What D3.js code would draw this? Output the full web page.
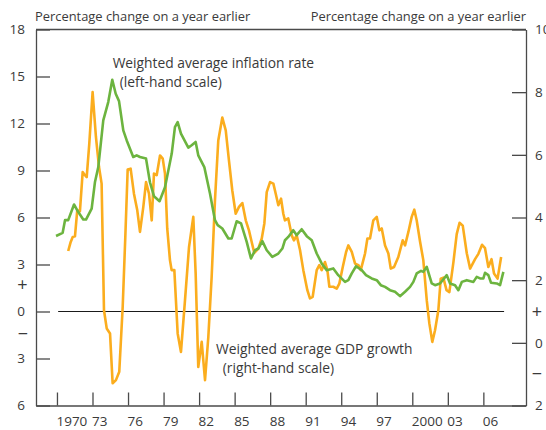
<!DOCTYPE html>
<html>
<head>
<meta charset="utf-8">
<script src="https://cdn.jsdelivr.net/npm/d3@7"></script>
<style>
  body { margin: 0; background: #fff; }
  svg { display: block; font-family: 'Open Sans', sans-serif; }
  .axis path, .axis line { stroke: #4a4a4a; stroke-width: 1.3; }
  .axis text { fill: #3a3a3a; font-size: 13.5px; font-family: 'Open Sans', sans-serif; }
</style>
</head>
<body>
<svg id="chart" width="546" height="430"></svg>
<script>
// inflation (left-hand scale), [year, % change]
const inflation = [
  [1969.92, 4.82], [1970.48, 5.02], [1970.68, 5.83], [1970.95, 5.83], [1971.44, 6.83],
  [1971.80, 6.35], [1972.22, 5.87], [1972.45, 5.87], [1972.93, 6.57], [1973.21, 8.27],
  [1973.49, 9.22], [1973.91, 12.2], [1974.33, 13.37], [1974.67, 14.79], [1974.96, 13.9],
  [1975.24, 13.43], [1975.60, 11.56], [1975.89, 10.92], [1976.44, 9.86], [1976.73, 9.97],
  [1977.01, 9.86], [1977.52, 9.76], [1977.85, 8.25], [1978.19, 7.36], [1978.66, 7.04],
  [1979.12, 7.93], [1979.69, 10.08], [1979.96, 11.77], [1980.19, 12.09], [1980.47, 11.35],
  [1981.09, 10.46], [1981.37, 10.61], [1981.71, 10.82], [1981.93, 9.97], [1982.44, 9.22],
  [1982.92, 7.53], [1983.34, 5.83], [1983.57, 5.51], [1983.96, 5.3], [1984.47, 4.66],
  [1984.75, 4.66], [1985.17, 5.76], [1985.54, 5.62], [1986.02, 4.44], [1986.38, 3.38],
  [1986.72, 3.91], [1987.00, 4.02], [1987.34, 4.49], [1987.71, 3.91], [1988.18, 3.49],
  [1988.69, 3.7], [1989.03, 4.02], [1989.25, 4.55], [1989.53, 4.76], [1989.95, 5.19],
  [1990.24, 4.87], [1990.66, 5.25], [1991.09, 4.81], [1991.51, 4.55], [1991.93, 3.7],
  [1992.35, 3.07], [1992.77, 2.64], [1993.33, 2.75], [1993.75, 2.32], [1994.32, 1.89],
  [1994.60, 2.0], [1994.89, 2.43], [1995.25, 2.89], [1995.73, 2.64], [1996.09, 2.32],
  [1996.57, 2.11], [1997.00, 2.0], [1997.34, 1.68], [1997.70, 1.57], [1998.12, 1.36],
  [1998.54, 1.26], [1998.96, 0.98], [1999.39, 1.26], [1999.81, 1.57], [2000.09, 1.89],
  [2000.37, 2.43], [2000.74, 2.59], [2000.93, 2.53], [2001.22, 2.85], [2001.64, 1.79],
  [2001.92, 1.68], [2002.34, 1.79], [2002.91, 2.32], [2003.19, 1.79], [2003.61, 1.68],
  [2003.89, 1.36], [2004.18, 1.89], [2004.60, 2.0], [2005.16, 1.89], [2005.44, 2.21],
  [2005.72, 2.11], [2006.00, 2.11], [2006.14, 2.47], [2006.42, 2.32], [2006.65, 1.83],
  [2007.13, 1.79], [2007.41, 1.68], [2007.69, 2.53]
];

// GDP growth (right-hand scale), [year, % change]
const gdp = [
  [1970.95, 2.93], [1971.16, 3.22], [1971.33, 3.38], [1971.52, 3.4], [1971.71, 4.22],
  [1971.94, 4.2], [1972.17, 5.45], [1972.36, 5.35], [1972.51, 5.29], [1972.73, 6.36],
  [1973.01, 8.0], [1973.29, 6.57], [1973.55, 5.61], [1973.77, 5.08], [1973.97, 1.04],
  [1974.20, 0.46], [1974.48, 0.3], [1974.70, -1.29], [1974.98, -1.19], [1975.26, -0.92],
  [1975.55, 1.15], [1975.77, 3.38], [1975.97, 5.53], [1976.22, 5.56], [1976.50, 4.76],
  [1976.78, 4.23], [1977.01, 3.54], [1977.29, 4.34], [1977.52, 5.13], [1977.77, 4.76],
  [1978.00, 3.91], [1978.19, 5.4], [1978.42, 5.35], [1978.70, 5.98], [1978.93, 5.88],
  [1979.12, 5.4], [1979.31, 3.65], [1979.54, 2.64], [1979.68, 2.32], [1979.91, 2.32],
  [1980.19, 0.3], [1980.47, -0.29], [1980.81, 1.36], [1981.15, 3.06], [1981.51, 4.02],
  [1981.71, 2.21], [1981.93, -0.77], [1982.22, 0.03], [1982.50, -1.19], [1982.78, 0.19],
  [1983.06, 2.1], [1983.34, 4.55], [1983.62, 6.46], [1983.96, 7.19], [1984.25, 6.78],
  [1984.52, 5.82], [1984.80, 4.87], [1985.09, 4.12], [1985.37, 4.34], [1985.65, 4.46],
  [1985.94, 3.91], [1986.21, 3.59], [1986.44, 3.22], [1986.66, 2.87], [1987.00, 3.01],
  [1987.29, 3.33], [1987.51, 3.81], [1987.71, 4.81], [1987.99, 5.13], [1988.27, 5.08],
  [1988.47, 4.76], [1988.69, 4.39], [1988.92, 4.6], [1989.11, 4.12], [1989.25, 3.91],
  [1989.53, 3.97], [1989.82, 3.43], [1990.01, 3.27], [1990.24, 3.43], [1990.52, 2.96],
  [1990.80, 2.32], [1991.14, 1.68], [1991.36, 1.42], [1991.59, 1.47], [1991.93, 2.32],
  [1992.15, 2.48], [1992.35, 2.32], [1992.63, 2.58], [1992.83, 2.32], [1993.00, 1.79],
  [1993.33, 1.79], [1993.62, 1.73], [1993.84, 1.89], [1994.13, 2.42], [1994.41, 2.9],
  [1994.60, 3.11], [1994.89, 2.9], [1995.17, 2.53], [1995.45, 2.48], [1995.65, 2.32],
  [1996.01, 2.85], [1996.21, 3.33], [1996.43, 3.33], [1996.71, 3.91], [1997.00, 4.02],
  [1997.22, 3.59], [1997.42, 3.65], [1997.70, 3.11], [1997.98, 2.85], [1998.18, 2.37],
  [1998.46, 2.42], [1998.82, 2.74], [1999.19, 3.27], [1999.39, 3.11], [1999.67, 3.54],
  [1999.95, 4.02], [2000.17, 4.25], [2000.37, 3.91], [2000.65, 3.24], [2000.93, 2.64],
  [2001.22, 1.36], [2001.44, 0.62], [2001.69, 0.03], [2001.92, 0.4], [2002.20, 1.04],
  [2002.40, 2.05], [2002.62, 2.08], [2002.89, 1.68], [2003.13, 1.62], [2003.47, 2.57],
  [2003.75, 3.47], [2003.99, 3.83], [2004.26, 3.74], [2004.60, 2.86], [2004.88, 2.37],
  [2005.30, 2.67], [2005.58, 2.84], [2005.89, 3.13], [2006.14, 3.02], [2006.42, 2.42],
  [2006.69, 2.67], [2006.90, 2.21], [2007.20, 2.05], [2007.50, 2.74]
];

const leftTicks = [18, 15, 12, 9, 6, 3, 0, -3, -6];
const rightTicks = [10, 8, 6, 4, 2, 0, -2];
const yearTicks = [1970, 1973, 1976, 1979, 1982, 1985, 1988, 1991, 1994, 1997, 2000, 2003, 2006];
const yearLabels = ['1970', '73', '76', '79', '82', '85', '88', '91', '94', '97', '2000', '03', '06'];

let svg = d3.select('#chart');
let margin = { top: 29.5, right: 20, bottom: 24.5, left: 36 };
let width = +svg.attr('width');
let height = +svg.attr('height');

let x = d3.scaleLinear()
  .domain([1968.23, 2009.6])
  .range([margin.left, width - margin.right]);

let yLeft = d3.scaleLinear()
  .domain([-6, 18])
  .range([height - margin.bottom, margin.top]);

let yRight = d3.scaleLinear()
  .domain([-2, 10])
  .range([height - margin.bottom, margin.top]);

// frame top
svg.append('line')
  .attr('x1', margin.left).attr('x2', width - margin.right)
  .attr('y1', margin.top).attr('y2', margin.top)
  .attr('stroke', '#4a4a4a').attr('stroke-width', 1.3);

// zero line
svg.append('line')
  .attr('x1', x(1970.1)).attr('x2', x(2007.75))
  .attr('y1', yLeft(0)).attr('y2', yLeft(0))
  .attr('stroke', '#1a1a1a').attr('stroke-width', 1.1);

// Axes
svg.append('g')
  .attr('class', 'axis')
  .attr('transform', 'translate(' + margin.left + ',0)')
  .call(d3.axisLeft(yLeft).tickValues(leftTicks).tickSize(-14).tickSizeOuter(0).tickPadding(11)
    .tickFormat(function (d) { return Math.abs(d); }));

svg.append('g')
  .attr('class', 'axis')
  .attr('transform', 'translate(' + (width - margin.right) + ',0)')
  .call(d3.axisRight(yRight).tickValues(rightTicks).tickSize(-14).tickSizeOuter(0).tickPadding(9)
    .tickFormat(function (d) { return Math.abs(d); }));

let xAxis = svg.append('g')
  .attr('class', 'axis')
  .attr('transform', 'translate(0,' + (height - margin.bottom) + ')')
  .call(d3.axisBottom(x).tickValues(yearTicks).tickSize(-13).tickSizeOuter(0).tickPadding(11)
    .tickFormat(function (d, i) { return yearLabels[i]; }));
xAxis.selectAll('text').attr('text-anchor', 'start').attr('dx', -1);

// +/- signs beside the axes
let signs = svg.append('g')
  .attr('fill', '#3a3a3a')
  .attr('font-size', '18px')
  .attr('text-anchor', 'middle');
signs.append('text').attr('x', 22.5).attr('y', yLeft(1.7)).attr('dy', '0.35em').text('+');
signs.append('text').attr('x', 23).attr('y', yLeft(-1.4)).attr('dy', '0.35em').text('\u2212');
signs.append('text').attr('x', 537).attr('y', yRight(1)).attr('dy', '0.35em').text('+');
signs.append('text').attr('x', 537).attr('y', yRight(-1)).attr('dy', '0.35em').text('\u2212');

// Titles
svg.append('text')
  .attr('x', margin.left - 1).attr('y', 21)
  .attr('fill', '#3a3a3a').attr('font-size', '12.9px')
  .text('Percentage change on a year earlier');

svg.append('text')
  .attr('x', width - margin.right).attr('y', 21)
  .attr('text-anchor', 'end')
  .attr('fill', '#3a3a3a').attr('font-size', '12.9px')
  .text('Percentage change on a year earlier');

// Lines
let lineLeft = d3.line()
  .x(function (d) { return x(d[0]); })
  .y(function (d) { return yLeft(d[1]); });

let lineRight = d3.line()
  .x(function (d) { return x(d[0]); })
  .y(function (d) { return yRight(d[1]); });

svg.append('path')
  .datum(gdp)
  .attr('fill', 'none')
  .attr('stroke', '#fbad1e')
  .attr('stroke-width', 2.6)
  .attr('stroke-linejoin', 'round')
  .attr('d', lineRight);

svg.append('path')
  .datum(inflation)
  .attr('fill', 'none')
  .attr('stroke', '#6cb43f')
  .attr('stroke-width', 2.6)
  .attr('stroke-linejoin', 'round')
  .attr('d', lineLeft);

// Annotations
let notes = svg.append('g')
  .attr('fill', '#3a3a3a')
  .attr('font-size', '13.8px');
notes.append('text').attr('x', x(1974.7)).attr('y', yLeft(15.55)).text('Weighted average inflation rate');
notes.append('text').attr('x', x(1975.3)).attr('y', yLeft(14.3)).text('(left-hand scale)');
notes.append('text').attr('x', x(1983.43)).attr('y', yLeft(-2.72)).text('Weighted average GDP growth');
notes.append('text').attr('x', x(1984.0)).attr('y', yLeft(-3.93)).text('(right-hand scale)');
</script>
</body>
</html>
